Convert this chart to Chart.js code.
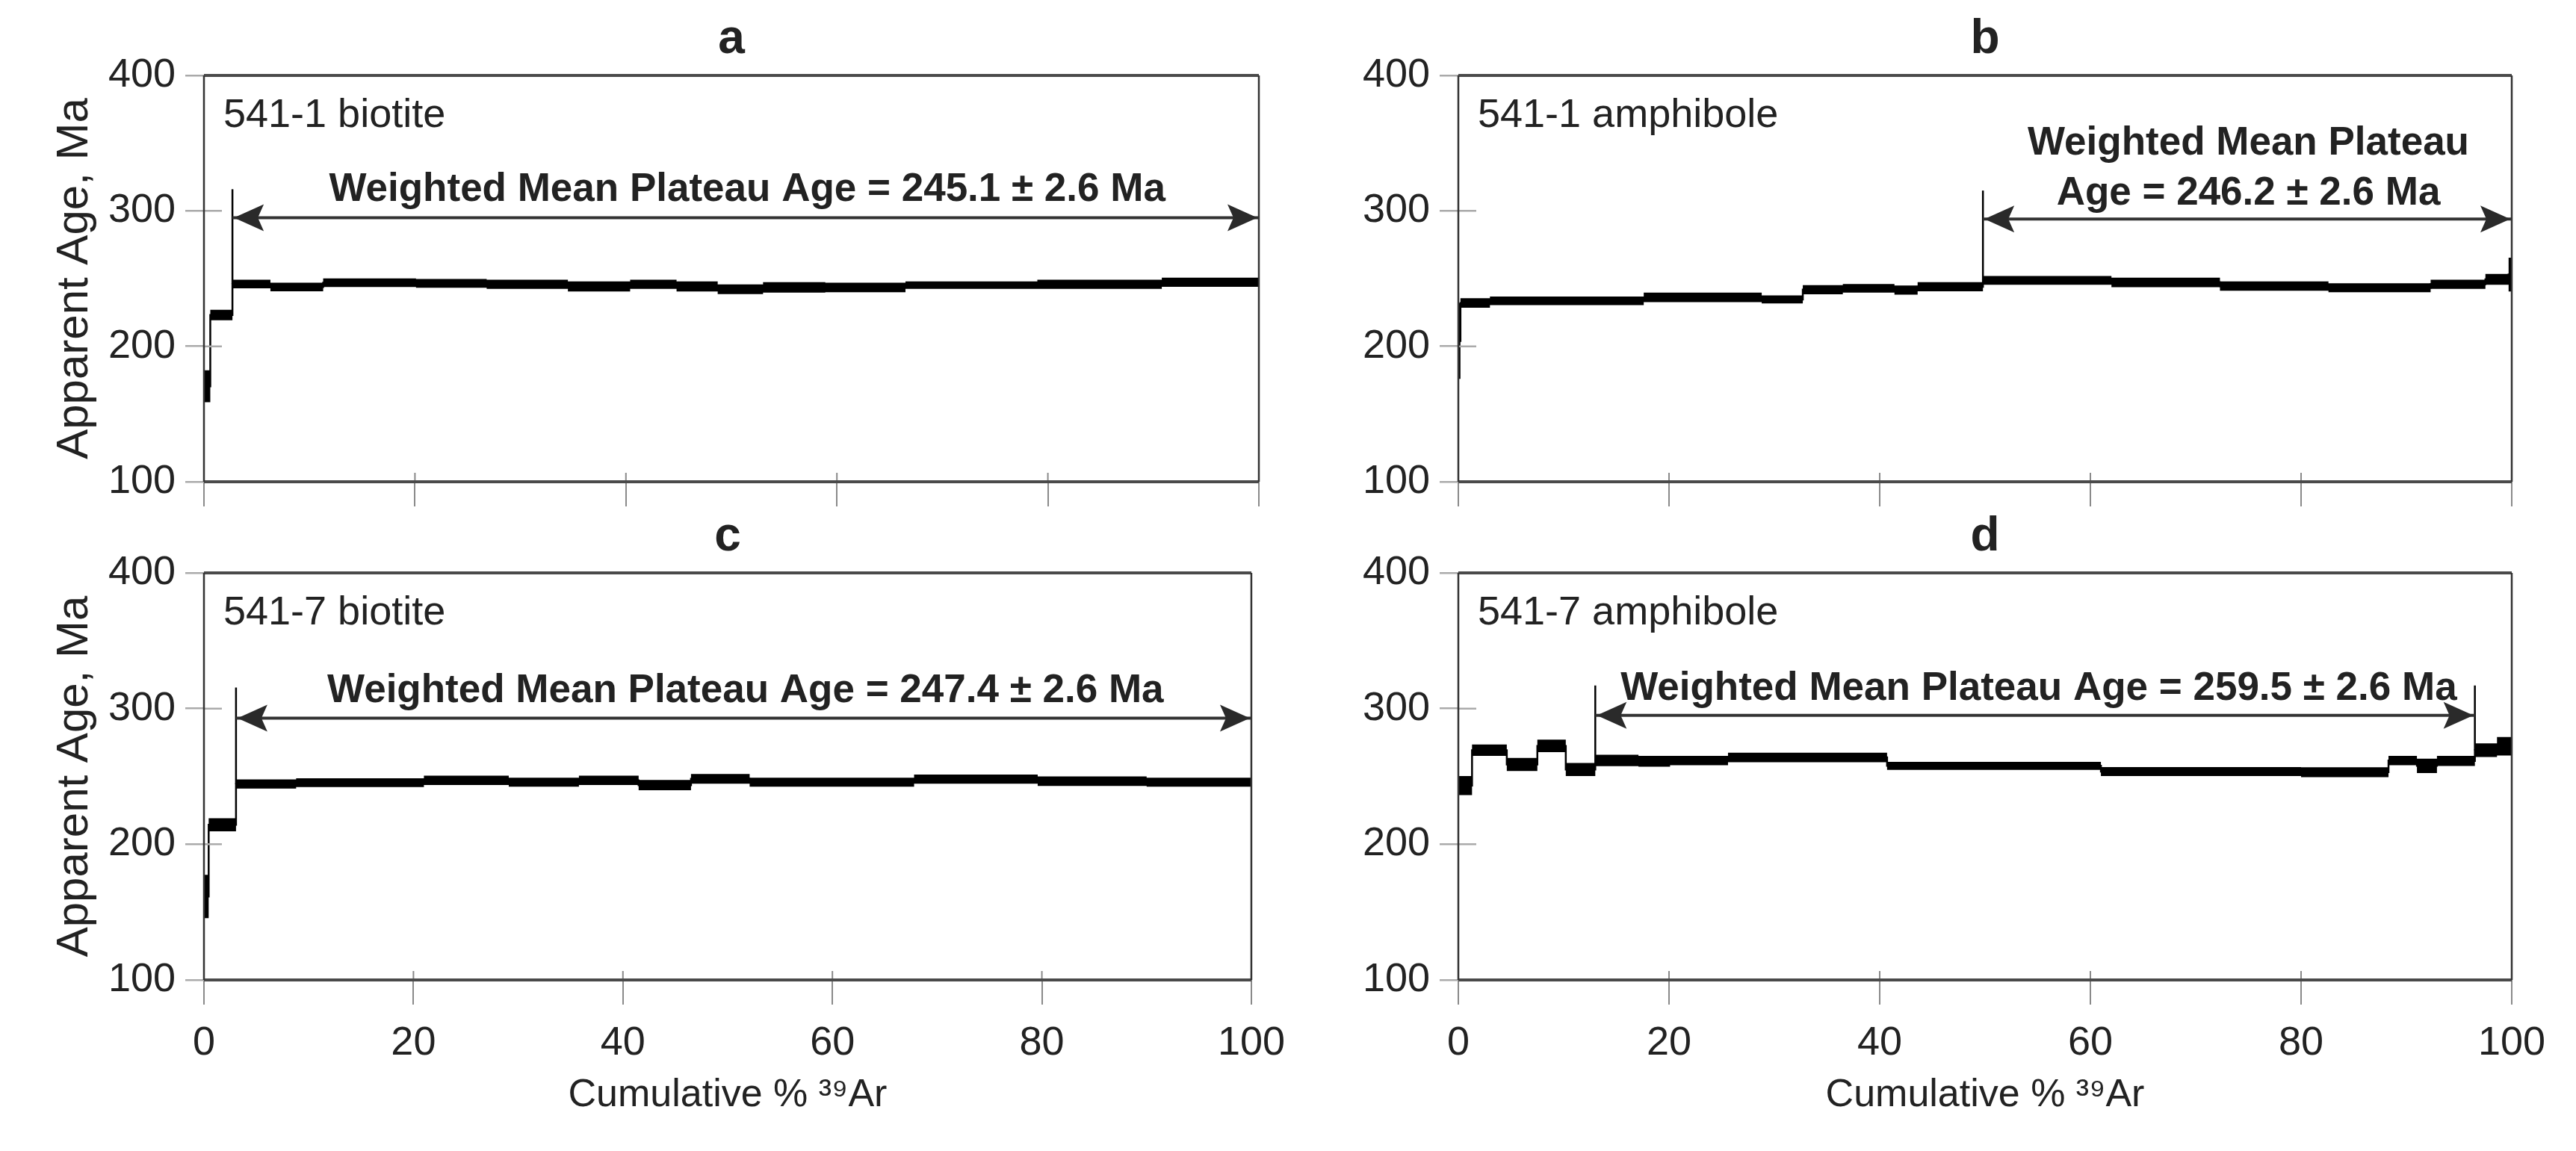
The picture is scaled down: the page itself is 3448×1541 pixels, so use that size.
<!DOCTYPE html>
<html>
<head>
<meta charset="utf-8">
<script src="https://cdn.jsdelivr.net/npm/chart.js@4.4.1/dist/chart.umd.min.js"></script>
<style>
  html, body { margin: 0; padding: 0; background: #fff; }
  body { width: 3448px; height: 1541px; position: relative; overflow: hidden; }
  .w { position: absolute; }
</style>
</head>
<body>
<div class="w" style="left:0px;top:0px;width:1740px;height:700px"><canvas id="c0"></canvas></div>
<div class="w" style="left:1760px;top:0px;width:1688px;height:700px"><canvas id="c1"></canvas></div>
<div class="w" style="left:0px;top:680px;width:1740px;height:861px"><canvas id="c2"></canvas></div>
<div class="w" style="left:1760px;top:680px;width:1688px;height:861px"><canvas id="c3"></canvas></div>
<script>
// ---------------- DATA ----------------
// Step boundaries (cumulative % 39Ar), apparent ages (Ma) and half-widths of the error boxes (Ma)
const aX   = [0, 0.6, 2.7, 6.3, 11.3, 20.1, 26.8, 34.5, 40.4, 44.8, 48.7, 53.0, 58.9, 66.5, 79.0, 90.8, 100];
const aAge = [170.5, 223.1, 246.0, 243.8, 247.0, 246.5, 245.8, 244.2, 245.8, 244.2, 242.1, 243.5, 243.5, 245.2, 245.8, 247.3];
const aErr = [11.8, 3.9, 3.2, 3.2, 3.2, 3.2, 3.4, 3.7, 3.4, 3.7, 3.6, 3.9, 3.5, 2.8, 3.4, 3.4];

const bX   = [0, 0.2, 3.0, 17.6, 28.8, 32.7, 36.5, 41.4, 43.6, 49.8, 62.0, 72.3, 82.6, 92.3, 97.5, 99.7, 100];
const bAge = [204, 232.0, 233.6, 236.1, 234.6, 241.8, 242.8, 241.5, 244.0, 248.7, 247.2, 244.5, 243.3, 245.8, 249.5, 253.0];
const bErr = [28, 3.5, 3.2, 3.5, 3.0, 3.4, 3.2, 3.4, 3.4, 3.2, 3.5, 3.4, 3.3, 3.4, 4.0, 12.5];

const cX   = [0, 0.45, 3.06, 8.8, 21.0, 29.1, 35.8, 41.5, 46.5, 52.1, 67.8, 79.6, 90.0, 100];
const cAge = [161.5, 214.4, 244.4, 245.4, 247.1, 245.8, 247.1, 243.6, 248.2, 245.8, 248.0, 246.5, 245.8];
const cErr = [16, 4.8, 3.4, 3.2, 3.4, 3.3, 3.4, 3.8, 3.6, 3.3, 3.4, 3.5, 3.3];

const dX   = [0, 1.3, 4.6, 7.5, 10.2, 13.0, 17.1, 20.1, 25.6, 40.7, 61.0, 80.0, 88.3, 91.0, 92.9, 96.5, 98.6, 100];
const dAge = [243.3, 269.3, 258.8, 272.5, 255.1, 261.8, 261.2, 261.7, 264.0, 257.8, 253.6, 253.1, 261.7, 257.8, 261.4, 269.3, 272.2];
const dErr = [7.0, 4.2, 4.8, 4.6, 4.8, 4.2, 4.0, 3.5, 3.5, 3.0, 3.3, 3.7, 3.5, 5.3, 3.7, 5.0, 6.8];

// Plateau steps
const plateauStart = [2.7, 49.8, 3.06, 13.0];
const plateauEnd   = [100, 100, 100, 96.5];
const arrowAge     = [295, 294, 293, 295];
const markerTop    = [316, 315, 315.5, 317];

// Texts
const panelLetters  = ['a', 'b', 'c', 'd'];
const sampleLabels  = ['541-1 biotite', '541-1 amphibole', '541-7 biotite', '541-7 amphibole'];
const plateauLabels = [
  ['Weighted Mean Plateau Age = 245.1 \u00B1 2.6 Ma'],
  ['Weighted Mean Plateau', 'Age = 246.2 \u00B1 2.6 Ma'],
  ['Weighted Mean Plateau Age = 247.4 \u00B1 2.6 Ma'],
  ['Weighted Mean Plateau Age = 259.5 \u00B1 2.6 Ma']
];
const xTickValues = [0, 20, 40, 60, 80, 100];
const yTickValues = [100, 200, 300, 400];
const xTitle = 'Cumulative % \u00B3\u2079Ar';
const yTitle = 'Apparent Age, Ma';

// ---------------- LAYOUT / STYLE ----------------
const FONT = '"Liberation Sans", Arial, Helvetica, sans-serif';
const TXT = '#222';
const textPos = [ // annotation anchor in data units (x %, age of first line)
  {x: 51.5, y: 318}, {x: 75.0, y: 352}, {x: 51.7, y: 315}, {x: 55.1, y: 317}
];
const panelData = [
  {id: 'c0', x: aX, age: aAge, err: aErr},
  {id: 'c1', x: bX, age: bAge, err: bErr},
  {id: 'c2', x: cX, age: cAge, err: cErr},
  {id: 'c3', x: dX, age: dAge, err: dErr}
];

Chart.defaults.font.family = FONT;
Chart.defaults.color = TXT;

function steps(xs, f) {
  const pts = [];
  for (let i = 0; i < xs.length - 1; i++) pts.push({x: xs[i], y: f(i)});
  pts.push({x: xs[xs.length - 1], y: f(xs.length - 2)});
  return pts;
}

const annot = {
  id: 'annot',
  afterDatasetsDraw(chart, args, o) {
    const p = o.panel;
    const {ctx, chartArea: ca, scales} = chart;
    const x = scales.x, y = scales.y;
    ctx.save();
    // inner parts of the tick marks
    ctx.strokeStyle = '#aaaaaa';
    ctx.lineWidth = 2.5;
    ctx.beginPath();
    yTickValues.forEach(v => { const py = y.getPixelForValue(v); ctx.moveTo(ca.left, py); ctx.lineTo(ca.left + 24, py); });
    ctx.stroke();
    ctx.strokeStyle = '#8a8a8a';
    ctx.lineWidth = 2;
    ctx.beginPath();
    xTickValues.forEach(v => { const px = x.getPixelForValue(v); ctx.moveTo(px, ca.bottom); ctx.lineTo(px, ca.bottom - 12); });
    ctx.stroke();
    // arrow heads
    const yA = y.getPixelForValue(arrowAge[p]);
    const xs = x.getPixelForValue(plateauStart[p]) + 2;
    const xe = x.getPixelForValue(plateauEnd[p]) - 2;
    ctx.fillStyle = '#2a2a2a';
    const L = 40, H = 18;
    ctx.beginPath(); ctx.moveTo(xs, yA); ctx.lineTo(xs + L, yA - H); ctx.lineTo(xs + L * 0.8, yA); ctx.lineTo(xs + L, yA + H); ctx.closePath(); ctx.fill();
    ctx.beginPath(); ctx.moveTo(xe, yA); ctx.lineTo(xe - L, yA - H); ctx.lineTo(xe - L * 0.8, yA); ctx.lineTo(xe - L, yA + H); ctx.closePath(); ctx.fill();
    // plateau text
    ctx.fillStyle = TXT;
    ctx.textAlign = 'center';
    ctx.textBaseline = 'alphabetic';
    ctx.font = 'bold 53px ' + FONT;
    const tx = x.getPixelForValue(textPos[p].x);
    const ty = y.getPixelForValue(textPos[p].y);
    plateauLabels[p].forEach((t, k) => ctx.fillText(t, tx, ty + 19 + k * 67));
    // sample label
    ctx.textAlign = 'left';
    ctx.font = '54px ' + FONT;
    ctx.fillText(sampleLabels[p], ca.left + 26, ca.top + 69);
    // panel letter
    ctx.textAlign = 'center';
    ctx.font = 'bold 64px ' + FONT;
    ctx.fillText(panelLetters[p], (ca.left + ca.right) / 2, ca.top - 30);
    // frame
    ctx.strokeStyle = '#4a4a4a';
    ctx.lineWidth = 4;
    ctx.beginPath();
    ctx.moveTo(ca.left, ca.top); ctx.lineTo(ca.right, ca.top);
    ctx.moveTo(ca.left, ca.bottom); ctx.lineTo(ca.right, ca.bottom);
    ctx.stroke();
    ctx.strokeStyle = '#333';
    ctx.lineWidth = 2.5;
    ctx.beginPath();
    ctx.moveTo(ca.left, ca.top); ctx.lineTo(ca.left, ca.bottom);
    ctx.moveTo(ca.right, ca.top); ctx.lineTo(ca.right, ca.bottom);
    ctx.stroke();
    ctx.restore();
  }
};

function makeChart(i) {
  const P = panelData[i];
  const isLeft = i % 2 === 0, isBottom = i >= 2;
  const xs = P.x, ag = P.age, er = P.err;
  const si = xs.indexOf(plateauStart[i]);
  const markers = [{x: plateauStart[i], y: ag[si]}, {x: plateauStart[i], y: markerTop[i]}];
  if (plateauEnd[i] < 100) {
    const ei = xs.indexOf(plateauEnd[i]);
    markers.push({x: plateauEnd[i], y: null}, {x: plateauEnd[i], y: ag[ei]}, {x: plateauEnd[i], y: markerTop[i]});
  }
  const none = 'rgba(0,0,0,0)';
  new Chart(document.getElementById(P.id), {
    type: 'line',
    data: {
      datasets: [
        {data: steps(xs, k => ag[k] - er[k]), stepped: true, borderWidth: 0, borderColor: none, pointRadius: 0, fill: false},
        {data: steps(xs, k => ag[k] + er[k]), stepped: true, borderWidth: 0, borderColor: none, pointRadius: 0, fill: '-1', backgroundColor: '#000'},
        {data: steps(xs, k => ag[k]), stepped: true, borderWidth: 2.5, borderColor: '#000', pointRadius: 0, fill: false},
        {data: [{x: plateauStart[i], y: arrowAge[i]}, {x: plateauEnd[i], y: arrowAge[i]}], borderColor: '#333', borderWidth: 4, pointRadius: 0, fill: false},
        {data: markers, borderColor: '#000', borderWidth: 2.5, pointRadius: 0, fill: false, spanGaps: false}
      ]
    },
    options: {
      responsive: true,
      maintainAspectRatio: false,
      animation: false,
      events: [],
      layout: {autoPadding: false, padding: {top: isBottom ? 87 : 101, right: isLeft ? 55 : 86, left: 0, bottom: 0}},
      plugins: {legend: {display: false}, tooltip: {enabled: false}, title: {display: false}, annot: {panel: i}},
      scales: {
        x: {
          type: 'linear', min: 0, max: 100,
          afterBuildTicks: s => { s.ticks = xTickValues.map(v => ({value: v})); },
          afterFit: s => { s.height = isBottom ? 229 : 55; },
          grid: {drawOnChartArea: false, drawTicks: true, tickLength: 33, color: '#8a8a8a', lineWidth: 2},
          border: {display: false},
          ticks: {display: isBottom, font: {size: 54}, color: TXT, padding: 20, maxRotation: 0, autoSkip: false},
          title: {display: isBottom, text: xTitle, font: {size: 52}, color: TXT, padding: {top: 0, bottom: 43}}
        },
        y: {
          type: 'linear', min: 100, max: 400,
          afterBuildTicks: s => { s.ticks = yTickValues.map(v => ({value: v})); },
          afterFit: s => { s.width = isLeft ? 273 : 192; },
          grid: {drawOnChartArea: false, drawTicks: true, tickLength: 25, color: '#aaaaaa', lineWidth: 2.5},
          border: {display: false},
          ticks: {font: {size: 54}, color: TXT, padding: 13},
          title: {display: isLeft, text: yTitle, font: {size: 60}, color: TXT, padding: {top: 64, bottom: 0}}
        }
      }
    },
    plugins: [annot]
  });
}

for (let i = 0; i < 4; i++) makeChart(i);
</script>
</body>
</html>
